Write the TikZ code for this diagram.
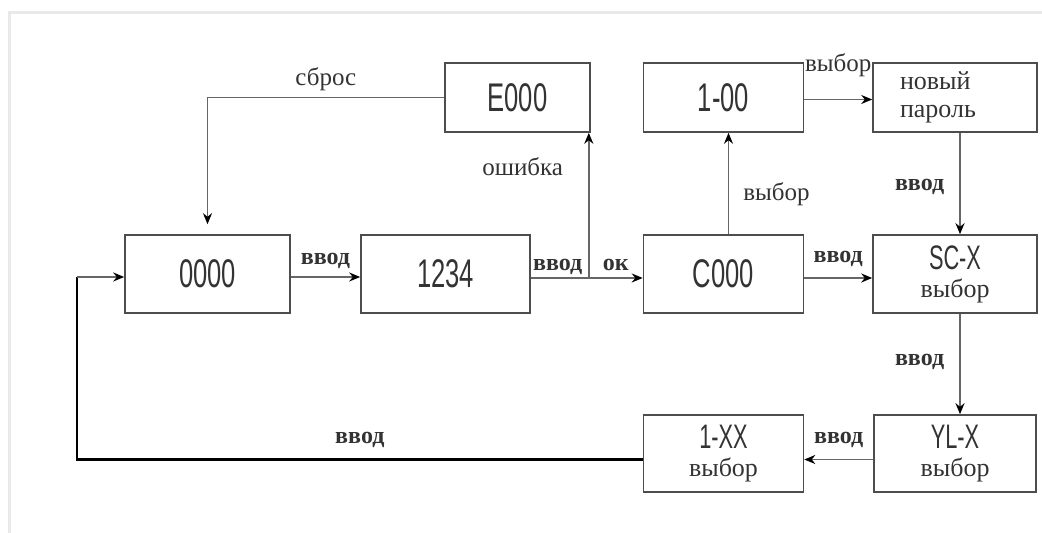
\documentclass[tikz,border=0pt]{standalone}
\usepackage{fontspec}
\setmainfont{Liberation Serif}
\newfontfamily\boxfont[FakeStretch = 0.64]{Liberation Sans}
\usepackage{xcolor}
\usetikzlibrary{arrows.meta}
\definecolor{linecolor}{HTML}{666666}
\definecolor{boxcolor}{HTML}{4d4d4d}
\definecolor{framecolor}{HTML}{e9e9e9}
\definecolor{textcolor}{HTML}{333333}

\newcommand{\lcd}[1]{{\boxfont\fontsize{34}{34}\selectfont #1}}

\tikzset{
    screen/.style = {draw = boxcolor, line width = 1.6pt, rectangle, text = textcolor, align = center, inner sep = 0pt, font = \fontsize{26}{28}\selectfont},
    big/.style = {font = \boxfont\fontsize{40}{40}\selectfont},
    link/.style = {-{Stealth[length = 11pt, width = 9pt, black]}, draw = linecolor, line width = 1.6pt},
    lbl/.style = {text = textcolor, inner sep = 2pt, font = \fontsize{25}{28}\selectfont},
    key/.style = {text = textcolor, inner sep = 2pt, text height = 11pt, text depth = 5pt, font = \fontsize{24}{26}\selectfont\bfseries}
}

\begin{document}
\begin{tikzpicture}

        \useasboundingbox (0pt, 0pt) rectangle (1042pt, 533pt);
        \draw [framecolor, line width = 3pt] (9pt, 0pt) -- (9pt, 520pt) -- (1042pt, 520pt);

        % Middle Row
        \node [screen, big, minimum width = 165pt, minimum height = 78pt] (zero) at (207.5pt, 259pt) {0000};
        \node [screen, big, minimum width = 169pt, minimum height = 78pt] (pin) at (445.5pt, 259pt) {1234};
        \node [screen, big, minimum width = 160pt, minimum height = 78pt] (menu) at (723.5pt, 259pt) {C000};
        \node [screen, minimum width = 164pt, minimum height = 78pt] (sc) at (955pt, 259pt) {\lcd{SC-X}\\выбор};

        % Top Row
        \node [screen, big, minimum width = 145pt, minimum height = 69pt] (err) at (517.5pt, 435.5pt) {E000};
        \node [screen, big, minimum width = 160pt, minimum height = 69pt] (sub) at (723.5pt, 435.5pt) {1-00};
        \node [screen, align = left, text width = 110pt, minimum width = 164pt, minimum height = 69pt] (newpw) at (955pt, 435.5pt) {новый\\пароль};

        % Bottom Row
        \node [screen, minimum width = 160pt, minimum height = 77pt] (num) at (723.5pt, 79.5pt) {\lcd{1-XX}\\выбор};
        \node [screen, minimum width = 162pt, minimum height = 77pt] (yl) at (955pt, 79.5pt) {\lcd{YL-X}\\выбор};

        \path (pin.east -| err.south east) ++(-2pt, -4pt) coordinate (fork);
        \path (err.south east) ++(-2pt, 0pt) coordinate (forktop);
        \path ([yshift = -3pt] zero.west) coordinate (entry);
        \coordinate (back) at (77pt, 73.5pt);

        % Forward
        \draw [link] ([yshift = -3pt] zero.east) -- node [key, above = 5pt] {ввод} ([yshift = -3pt] pin.west);
        \draw [link] ([yshift = -4pt] pin.east) -- node [key, above = 0pt, pos = 0.24] {ввод} node [key, above = 0pt, pos = 0.76] {ок} ([yshift = -4pt] menu.west);
        \draw [link] (fork) -- node [lbl, left = 23pt, pos = 0.77] {ошибка} (forktop);
        \draw [link] ([yshift = -4pt] menu.east) -- node [key, above = 8pt] {ввод} ([yshift = -4pt] sc.west);
        \draw [link] ([xshift = 5pt] menu.north) -- node [lbl, right = 12pt, pos = 0.39] {выбор} ([xshift = 5pt] sub.south);
        \draw [link] ([yshift = -2pt] sub.east) -- node [lbl, above = 20pt] {выбор} ([yshift = -2pt] newpw.west);
        \draw [link] ([xshift = 5pt] newpw.south) -- node [key, left = 13pt, pos = 0.54] {ввод} ([xshift = 5pt] sc.north);
        \draw [link] ([xshift = 5pt] sc.south) -- node [key, left = 13pt, pos = 0.49] {ввод} ([xshift = 5pt] yl.north);
        \draw [link] ([yshift = -6pt] yl.west) -- node [key, above = 8pt] {ввод} ([yshift = -6pt] num.east);

        % Back To Start
        \draw [link, shorten > = 10pt] (err.west) -| node [lbl, above = 4pt, pos = 0.25] {сброс} (zero.north);
        \draw [black, line width = 2.2pt] ([yshift = -6pt] num.west) -- node [key, above = 8pt] {ввод} (back) -- (back |- entry);
        \draw [link] (back |- entry) -- (entry);

    \end{tikzpicture}
\end{document}
